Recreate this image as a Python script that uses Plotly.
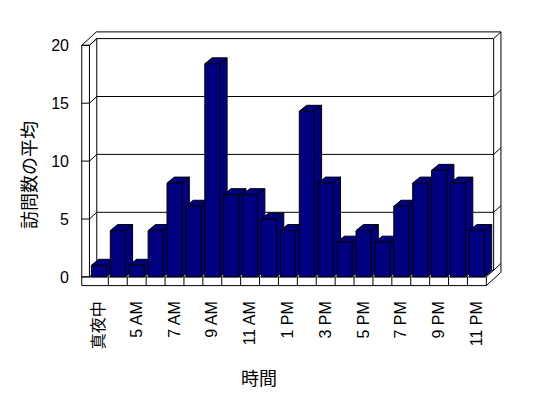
import plotly.graph_objects as go

# ---------------- data ----------------
hours = ["真夜中", "4 AM", "5 AM", "6 AM", "7 AM", "8 AM", "9 AM", "10 AM", "11 AM",
         "12 PM", "1 PM", "2 PM", "3 PM", "4 PM", "5 PM", "6 PM", "7 PM", "8 PM",
         "9 PM", "10 PM", "11 PM"]
visits = [1, 4, 1, 4, 8.1, 6.1, 18.4, 7.1, 7.1, 5, 4, 14.3, 8.1, 3, 4, 3, 6.1, 8.1,
          9.2, 8.1, 4]
y_ticks = [0, 5, 10, 15, 20]
x_title = "時間"
y_title = "訪問数の平均"

# ---------------- layout geometry (pixels -> axis units) ----------------
W, H = 548, 398
CAT_PX = 18.9      # pixels per category
X0_PX = 98.9       # pixel of first category centre
VAL_PX = 11.58     # pixels per value unit
Y0_PX = 276.9      # pixel of value 0 (front plane)
PL, PR, PT, PB = 76, 510, 24, 292   # plot box in pixels

x_range = [(PL - X0_PX) / CAT_PX, (PR - X0_PX) / CAT_PX]
y_range = [(Y0_PX - PB) / VAL_PX, (Y0_PX - PT) / VAL_PX]

DX, DY = 7.3 / CAT_PX, 6.7 / VAL_PX       # wall depth vector
BX, BY = 7.3 / CAT_PX, 6.0 / VAL_PX       # bar depth vector
TW = 7.7 / CAT_PX                          # left wall thickness
TF = 8.7 / VAL_PX                          # floor thickness
BAR_W = 15 / CAT_PX

NAVY = "#000080"
n = len(hours)
XL, XR = -0.5, n - 0.5
YT = max(y_ticks)
xs = list(range(n))

shapes = []


def seg(x0, y0, x1, y1):
    shapes.append(dict(type="line", xref="x", yref="y", x0=x0, y0=y0, x1=x1, y1=y1,
                       line=dict(color="black", width=1), layer="below"))


# left wall
seg(XL - TW, YT, XL - TW, -TF)
seg(XL, YT, XL, 0)
seg(XL - TW, YT, XL, YT)
seg(XL - TW, YT, XL - TW + 2 * DX, YT + 2 * DY)
seg(XL, YT, XL + DX, YT + DY)
seg(XL + DX, YT + DY, XL + DX, DY)
# ticks + gridlines
for v in y_ticks:
    seg(XL - TW, v, XL, v)
    seg(XL, v, XL + DX, v + DY)
    seg(XL + DX, v + DY, XR + DX, v + DY)
    seg(XR + DX, v + DY, XR + 2 * DX, v + 2 * DY)
# back wall top / right end
seg(XL - TW + 2 * DX, YT + 2 * DY, XR + 2 * DX, YT + 2 * DY)
seg(XR + DX, YT + DY, XR + DX, DY)
seg(XR + 2 * DX, YT + 2 * DY, XR + 2 * DX, -TF + 2 * DY)
# floor
seg(XL - TW, 0, XR, 0)
seg(XL - TW, -TF, XR, -TF)
seg(XR, -TF, XR, 0)
for k in range(1, n):
    seg(XL + k, -TF, XL + k, 0)
seg(XR, 0, XR + DX, DY)
seg(XR, -TF, XR + 2 * DX, -TF + 2 * DY)

fig = go.Figure()

# side + top faces of each bar (drawn left to right so later bars hide earlier sides)
for i, v in zip(xs, visits):
    l, r = i - BAR_W / 2, i + BAR_W / 2
    px = [r, r, r + BX, r + BX, r, None, l, r, r + BX, l + BX, l]
    py = [0, v, v + BY, BY, 0, None, v, v, v + BY, v + BY, v]
    fig.add_trace(go.Scatter(x=px, y=py, mode="lines", fill="toself", fillcolor=NAVY,
                             line=dict(color="black", width=1), hoverinfo="skip",
                             showlegend=False))

# front faces on an overlaying axis so they sit above every side face
fig.add_trace(go.Bar(x=xs, y=visits, width=BAR_W, yaxis="y2",
                     marker=dict(color=NAVY, line=dict(color="black", width=1)),
                     showlegend=False, hoverinfo="skip"))

FONT = "Liberation Sans, Arial, Noto Sans CJK JP, sans-serif"
CJK = "Noto Sans CJK JP"

pw, ph = PR - PL, PB - PT


def px_to_paper(xp, yp):
    return (xp - PL) / pw, ((H - yp) - (H - PB)) / ph


tx, ty = px_to_paper(259, 377)
yx, yy = px_to_paper(28, 175)

fig.update_layout(
    width=W, height=H,
    margin=dict(l=PL, r=W - PR, t=PT, b=H - PB, pad=0),
    paper_bgcolor="white", plot_bgcolor="white",
    font=dict(family=FONT, size=16, color="black"),
    shapes=shapes,
    showlegend=False,
    xaxis=dict(range=x_range, showgrid=False, zeroline=False, showline=False,
               tickmode="array", tickvals=xs[0::2], ticktext=hours[0::2],
               tickangle=-90, ticks="", ticklabelstandoff=5,
               tickfont=dict(family=FONT, size=16, color="black")),
    yaxis=dict(range=y_range, showgrid=False, zeroline=False, showline=False,
               tickmode="array", tickvals=y_ticks, ticks="", ticklabelstandoff=6,
               tickfont=dict(family=FONT, size=16, color="black")),
    yaxis2=dict(range=y_range, overlaying="y", visible=False),
    annotations=[
        dict(text=x_title, x=tx, y=ty, xref="paper", yref="paper",
             xanchor="center", yanchor="middle",
             showarrow=False, font=dict(family=CJK, size=18, color="black")),
        dict(text=y_title, x=yx, y=yy, xref="paper", yref="paper",
             xanchor="center", yanchor="middle",
             showarrow=False, textangle=-90, font=dict(family=CJK, size=18, color="black")),
    ],
)

fig.write_html("out.html")
